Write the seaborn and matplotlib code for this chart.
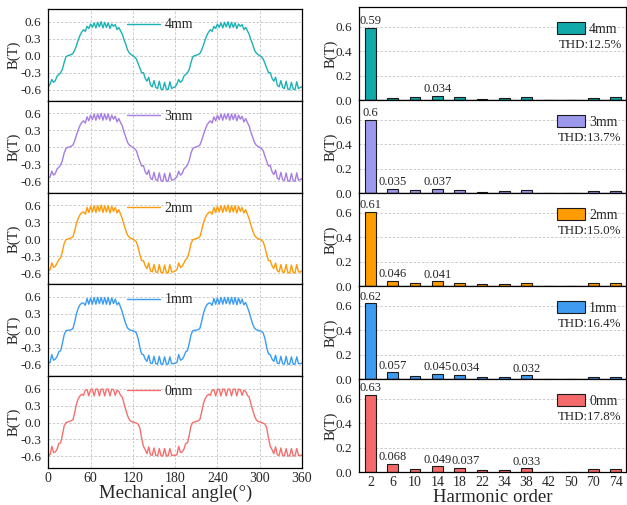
import numpy as np
import pandas as pd
import matplotlib
matplotlib.use("Agg")
import matplotlib.pyplot as plt
import seaborn as sns
from matplotlib.ticker import FormatStrFormatter
from matplotlib.patches import Patch

# ---------------- data ----------------
gaps = ["4mm", "3mm", "2mm", "1mm", "0mm"]
line_colors = ["#1CB2B4", "#A67DE2", "#FF9B0A", "#3A9CF5", "#F4706E"]
bar_colors = ["#12A9AB", "#9C98EC", "#FF9C00", "#3F9BF0", "#F46A6A"]
thd = ["THD:12.5%", "THD:13.7%", "THD:15.0%", "THD:16.4%", "THD:17.8%"]

# flux density over one 180-degree period (2.5 degree steps)
wave_4mm = [-0.55, -0.50, -0.42, -0.47, -0.44, -0.36, -0.33, -0.30, -0.24, -0.12,
            -0.02, 0.00, 0.01, 0.02, 0.04, 0.10, 0.18, 0.28, 0.36, 0.42,
            0.46, 0.43, 0.52, 0.48, 0.56, 0.50, 0.58, 0.49, 0.59, 0.51,
            0.60, 0.49, 0.59, 0.50, 0.58, 0.48, 0.56, 0.52, 0.55, 0.46,
            0.50, 0.44, 0.38, 0.28, 0.20, 0.10, 0.05, 0.02, 0.00, -0.02,
            -0.06, -0.14, -0.22, -0.30, -0.30, -0.40, -0.45, -0.38, -0.52, -0.55,
            -0.44, -0.56, -0.58, -0.45, -0.59, -0.60, -0.47, -0.59, -0.60, -0.46,
            -0.58, -0.56, -0.55]
wave_3mm = [-0.55, -0.52, -0.42, -0.49, -0.46, -0.38, -0.35, -0.31, -0.23, -0.10,
            -0.02, 0.00, 0.01, 0.02, 0.04, 0.12, 0.22, 0.31, 0.39, 0.44,
            0.47, 0.43, 0.54, 0.47, 0.57, 0.49, 0.59, 0.48, 0.59, 0.50,
            0.60, 0.48, 0.59, 0.49, 0.59, 0.47, 0.57, 0.50, 0.55, 0.45,
            0.51, 0.44, 0.38, 0.27, 0.18, 0.09, 0.04, 0.02, 0.00, -0.02,
            -0.06, -0.16, -0.25, -0.33, -0.32, -0.43, -0.48, -0.40, -0.54, -0.57,
            -0.44, -0.57, -0.59, -0.45, -0.59, -0.60, -0.46, -0.59, -0.60, -0.45,
            -0.58, -0.57, -0.55]
wave_2mm = [-0.56, -0.54, -0.42, -0.50, -0.48, -0.42, -0.36, -0.33, -0.22, -0.08,
            -0.01, 0.00, 0.01, 0.02, 0.04, 0.15, 0.28, 0.37, 0.43, 0.47,
            0.48, 0.44, 0.56, 0.47, 0.58, 0.48, 0.59, 0.47, 0.59, 0.49,
            0.60, 0.47, 0.59, 0.48, 0.59, 0.46, 0.58, 0.49, 0.56, 0.46,
            0.52, 0.44, 0.36, 0.25, 0.15, 0.07, 0.03, 0.01, 0.00, -0.02,
            -0.05, -0.15, -0.28, -0.38, -0.38, -0.47, -0.52, -0.42, -0.56, -0.58,
            -0.45, -0.58, -0.59, -0.45, -0.59, -0.60, -0.46, -0.59, -0.60, -0.45,
            -0.58, -0.58, -0.56]
wave_1mm = [-0.57, -0.56, -0.42, -0.52, -0.50, -0.45, -0.37, -0.35, -0.22, -0.07,
            0.00, 0.01, 0.01, 0.02, 0.04, 0.16, 0.30, 0.40, 0.46, 0.49,
            0.49, 0.45, 0.57, 0.47, 0.58, 0.47, 0.59, 0.47, 0.59, 0.48,
            0.59, 0.47, 0.59, 0.47, 0.59, 0.46, 0.58, 0.48, 0.56, 0.46,
            0.50, 0.42, 0.33, 0.22, 0.12, 0.05, 0.02, 0.01, 0.00, -0.01,
            -0.04, -0.14, -0.30, -0.41, -0.42, -0.50, -0.54, -0.43, -0.57, -0.58,
            -0.45, -0.58, -0.59, -0.45, -0.59, -0.59, -0.46, -0.59, -0.59, -0.46,
            -0.58, -0.58, -0.57]
wave_0mm = [-0.58, -0.57, -0.42, -0.53, -0.52, -0.47, -0.37, -0.36, -0.22, -0.06,
            0.00, 0.01, 0.02, 0.03, 0.05, 0.18, 0.33, 0.42, 0.47, 0.50,
            0.48, 0.57, 0.58, 0.47, 0.58, 0.59, 0.47, 0.59, 0.59, 0.47,
            0.59, 0.59, 0.47, 0.59, 0.59, 0.47, 0.59, 0.58, 0.48, 0.57,
            0.55, 0.48, 0.45, 0.33, 0.22, 0.12, 0.05, 0.02, 0.01, 0.00,
            -0.01, -0.03, -0.10, -0.28, -0.42, -0.48, -0.55, -0.43, -0.57, -0.58,
            -0.45, -0.58, -0.59, -0.46, -0.59, -0.59, -0.46, -0.59, -0.59, -0.46,
            -0.58, -0.58, -0.58]
waves = [wave_4mm, wave_3mm, wave_2mm, wave_1mm, wave_0mm]

orders = [2, 6, 10, 14, 18, 22, 34, 38, 42, 50, 70, 74]
harm_4mm = [0.59, 0.022, 0.024, 0.034, 0.024, 0.011, 0.018, 0.027, 0.003, 0.003, 0.022, 0.024]
harm_3mm = [0.6, 0.035, 0.026, 0.037, 0.025, 0.011, 0.018, 0.027, 0.003, 0.003, 0.022, 0.022]
harm_2mm = [0.61, 0.046, 0.025, 0.041, 0.028, 0.015, 0.018, 0.028, 0.004, 0.003, 0.024, 0.024]
harm_1mm = [0.62, 0.057, 0.025, 0.045, 0.034, 0.015, 0.015, 0.032, 0.005, 0.004, 0.022, 0.022]
harm_0mm = [0.63, 0.068, 0.027, 0.049, 0.037, 0.017, 0.017, 0.033, 0.006, 0.004, 0.024, 0.024]
harms = [harm_4mm, harm_3mm, harm_2mm, harm_1mm, harm_0mm]
labelled = [[0, 3], [0, 1, 3], [0, 1, 3], [0, 1, 3, 4, 7], [0, 1, 3, 4, 7]]

# ---------------- style ----------------
sns.set_theme(style="white")
plt.rcParams["font.family"] = ["Liberation Serif", "DejaVu Serif"]
plt.rcParams["axes.unicode_minus"] = True
plt.rcParams["axes.edgecolor"] = "black"
plt.rcParams["axes.linewidth"] = 0.9

W, H = 627, 505
fig = plt.figure(figsize=(W / 100, H / 100), dpi=100)

TICK = 9.5
GRID = dict(color="#c4c4c4", linestyle=(0, (3, 2)), linewidth=0.6)

# left column geometry (pixels)
lx0, lx1, ltop, lh = 48.3, 302.0, 9.3, 91.7
# right column geometry
rx0, rx1, rtop, rh = 359.3, 625.8, 7.3, 93.0

for i in range(5):
    # ---------- waveform ----------
    ax = fig.add_axes([lx0 / W, 1 - (ltop + (i + 1) * lh) / H, (lx1 - lx0) / W, lh / H])
    full = waves[i] + waves[i][1:]
    ang = np.linspace(0, 360, len(full))
    df = pd.DataFrame({"angle": ang, "B": full})
    sns.lineplot(data=df, x="angle", y="B", ax=ax, color=line_colors[i], linewidth=1.0,
                 label=gaps[i])
    ax.set_xlim(0, 360)
    ax.set_ylim(-0.80, 0.82)
    ax.set_xticks(range(0, 361, 60))
    ax.set_yticks([-0.6, -0.3, 0.0, 0.3, 0.6])
    ax.yaxis.set_major_formatter(FormatStrFormatter("%.1f"))
    ax.grid(True, **GRID)
    ax.set_axisbelow(True)
    ax.tick_params(axis="x", direction="in", length=3.5, width=0.8, labelsize=TICK + 0.5, pad=3)
    ax.tick_params(axis="y", direction="out", length=3.5, width=0.8, labelsize=TICK, pad=1.5)
    ax.set_ylabel("B(T)", fontsize=10.5, labelpad=0)
    if i < 4:
        ax.set_xticklabels([])
        ax.set_xlabel("")
    else:
        ax.set_xlabel("Mechanical angle(°)", fontsize=13.5, labelpad=0)
    ax.legend(loc="center", bbox_to_anchor=(0.44, 0.83), frameon=False,
              fontsize=10, handlelength=2.4, handletextpad=0.3, borderaxespad=0)
    for sp in ax.spines.values():
        sp.set_color("black")
        sp.set_linewidth(0.9)

    # ---------- harmonic spectrum ----------
    bx = fig.add_axes([rx0 / W, 1 - (rtop + (i + 1) * rh) / H, (rx1 - rx0) / W, rh / H])
    dfb = pd.DataFrame({"order": [str(o) for o in orders], "B": harms[i]})
    sns.barplot(data=dfb, x="order", y="B", ax=bx, color=bar_colors[i], saturation=1,
                edgecolor="#1a1a1a", linewidth=0.8, width=0.48)
    bx.set_xlim(-0.5, 11.45)
    bx.set_ylim(0, 0.76)
    bx.set_yticks([0.0, 0.2, 0.4, 0.6])
    bx.yaxis.set_major_formatter(FormatStrFormatter("%.1f"))
    bx.yaxis.grid(True, **GRID)
    bx.xaxis.grid(False)
    bx.set_axisbelow(True)
    bx.tick_params(axis="x", direction="in", length=0, labelsize=TICK + 0.5, pad=3)
    bx.tick_params(axis="y", direction="out", length=3.5, width=0.8, labelsize=TICK, pad=1.5)
    bx.set_ylabel("B(T)", fontsize=10.5, labelpad=-1)
    for k in labelled[i]:
        v = harms[i][k]
        shift = 0.27 if k == 4 else 0.0
        bx.text(k + shift, v + 0.006, f"{v:g}", ha="center", va="bottom", fontsize=9)
    if i < 4:
        bx.set_xticklabels([])
        bx.set_xlabel("")
    else:
        bx.set_xlabel("Harmonic order", fontsize=13.5, labelpad=0)
    handle = Patch(facecolor=bar_colors[i], edgecolor="#1a1a1a", linewidth=0.8)
    bx.legend([handle], [gaps[i]], loc="upper right", bbox_to_anchor=(1.0, 0.93),
              frameon=False, fontsize=10, handlelength=2.0, handleheight=0.95,
              handletextpad=0.3, borderaxespad=0.2)
    bx.text(0.985, 0.595, thd[i], transform=bx.transAxes, ha="right", va="center", fontsize=9.3)
    for sp in bx.spines.values():
        sp.set_color("black")
        sp.set_linewidth(0.9)

fig.savefig("out.png", dpi=100)
